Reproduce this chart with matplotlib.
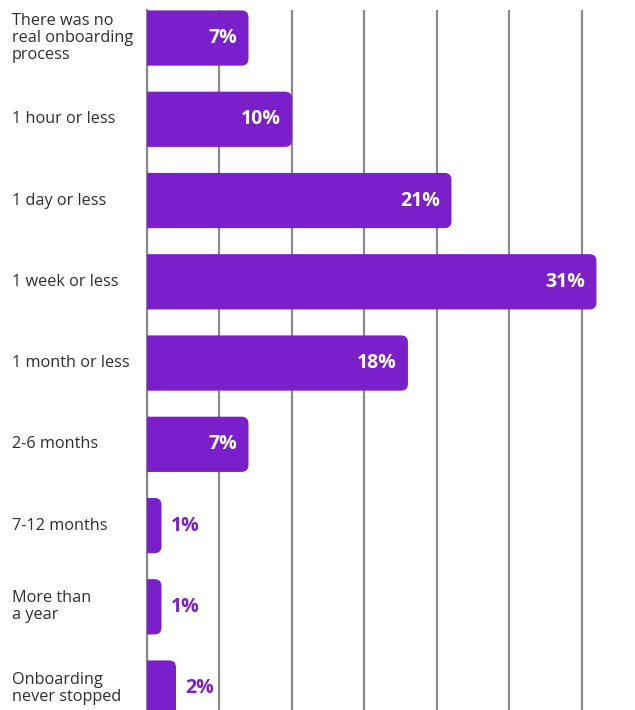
import matplotlib.pyplot as plt
from matplotlib.patches import FancyBboxPatch

# Survey answers: how long did onboarding take
categories = [
    "There was no\nreal onboarding\nprocess",
    "1 hour or less",
    "1 day or less",
    "1 week or less",
    "1 month or less",
    "2-6 months",
    "7-12 months",
    "More than\na year",
    "Onboarding\nnever stopped",
]
shares = [7, 10, 21, 31, 18, 7, 1, 1, 2]
grid_ticks = [0, 5, 10, 15, 20, 25, 30]

purple = "#7A1FCA"
text_dark = "#2E2E2E"
grid_grey = "#8A8A8A"

plt.rcParams["font.family"] = ["Open Sans", "DejaVu Sans"]

fig = plt.figure(figsize=(6.35, 7.1), dpi=100)
ax = fig.add_axes([147 / 635, 0, 1 - 147 / 635, 700 / 710])

ax.set_xlim(0, 33.66)
ax.set_ylim(8.27, -0.345)

bar_h = 0.68
radius = 0.48                # corner radius in x units (~7 px)
aspect = (1 / 81.25) / (1 / 14.5)

for i, (label, v) in enumerate(zip(categories, shares)):
    # start left of zero so only the right corners show rounded
    box = FancyBboxPatch((-radius - 0.2, i - bar_h / 2), v + radius + 0.2, bar_h,
                         boxstyle=f"round,pad=0,rounding_size={radius}",
                         mutation_aspect=aspect, facecolor=purple,
                         edgecolor="none", zorder=3)
    ax.add_patch(box)

    if v >= 5:
        ax.annotate(f"{v}%", xy=(v, i), xytext=(-8, 0), textcoords="offset points",
                    ha="right", va="center", color="white", fontsize=14,
                    fontweight="bold", zorder=4)
    else:
        ax.annotate(f"{v}%", xy=(v, i), xytext=(7, 0), textcoords="offset points",
                    ha="left", va="center", color=purple, fontsize=14,
                    fontweight="bold", zorder=4)

    ax.annotate(label, xy=(12 / 635, i), xycoords=("figure fraction", "data"),
                ha="left", va="center", color=text_dark, fontsize=11.7,
                linespacing=1.08, annotation_clip=False)

ax.set_xticks(grid_ticks)
ax.set_yticks([])
ax.tick_params(axis="x", length=0, labelbottom=False)
ax.grid(True, axis="x", color=grid_grey, linewidth=1.6, zorder=0)
ax.set_axisbelow(True)
for side in ["top", "right", "bottom"]:
    ax.spines[side].set_visible(False)
ax.spines["left"].set_color(grid_grey)
ax.spines["left"].set_linewidth(1.6)
ax.spines["left"].set_zorder(1)

fig.savefig("out.png", dpi=100)
